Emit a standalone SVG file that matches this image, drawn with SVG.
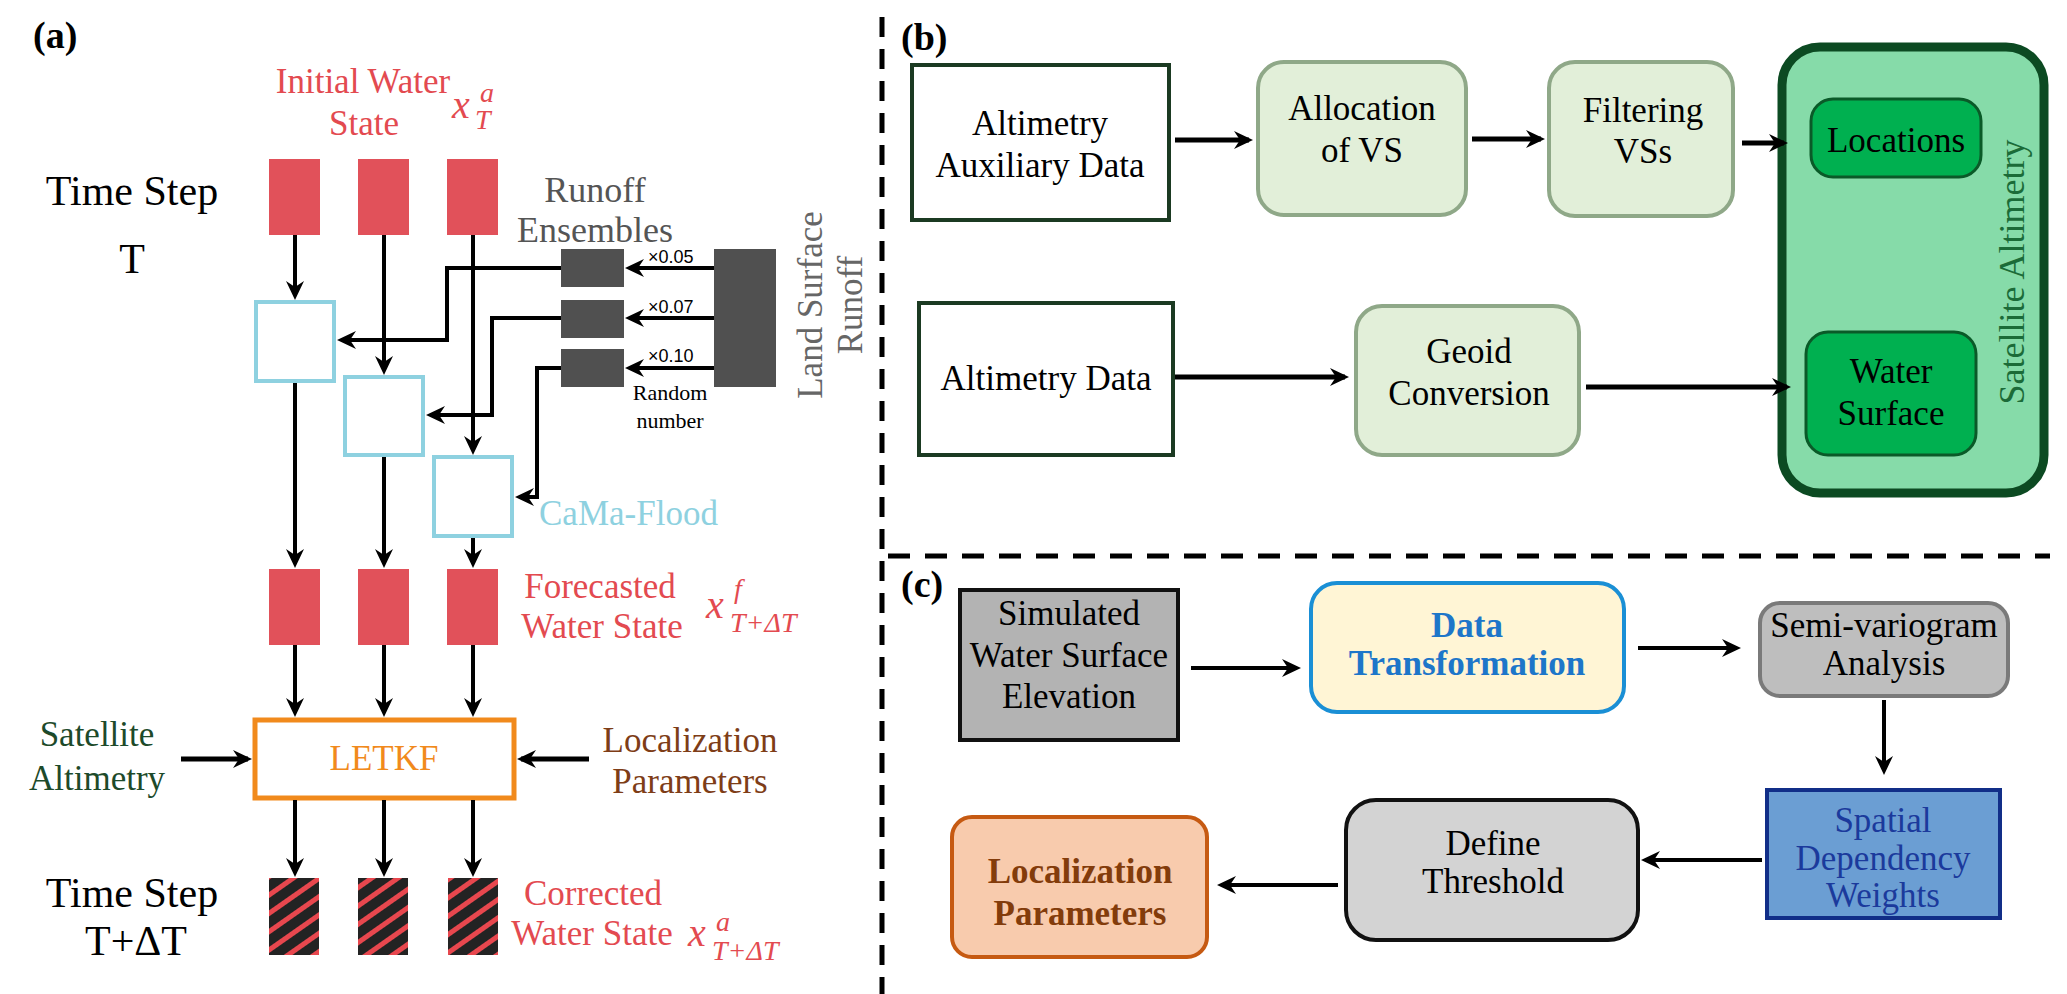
<svg xmlns="http://www.w3.org/2000/svg" width="2067" height="994" viewBox="0 0 2067 994" font-family="'Liberation Serif','Times New Roman',serif">
<style>
text{font-family:"Liberation Serif","Times New Roman",serif;}
.t35{font-size:35px;}
.red{fill:#E34A50;}
.c{text-anchor:middle;}
.lbl{font-size:38px;font-weight:bold;fill:#000;}
.ln{fill:none;stroke:#000;stroke-width:4;}
.lnb{fill:none;stroke:#000;stroke-width:5;}
.mi{font-style:italic;fill:#E34A50;}
.dash{fill:none;stroke:#000;stroke-width:5;}
.sans{font-family:"Liberation Sans",Arial,sans-serif;font-size:18px;}
</style>
<defs>
<marker id="ah" markerUnits="userSpaceOnUse" markerWidth="20" markerHeight="20" viewBox="0 0 20 20" refX="15" refY="10" orient="auto">
<path d="M0,1 L19,10 L0,19 L6,10 z" fill="#000"/>
</marker>
<pattern id="hatch" patternUnits="userSpaceOnUse" width="15" height="15" patternTransform="rotate(-35)">
<rect x="0" y="0" width="15" height="15" fill="#232323"/>
<rect x="0" y="0" width="15" height="5" fill="#E8474E"/>
</pattern>
</defs>
<rect width="2067" height="994" fill="#fff"/>

<g id="dividers">
<line class="dash" x1="882" y1="17" x2="882" y2="994" stroke-dasharray="20 12"/>
<line class="dash" x1="888" y1="556" x2="2050" y2="556" stroke-dasharray="22 15"/>
</g>

<!-- ===== Panel (a) ===== -->
<text class="lbl" x="33" y="48">(a)</text>

<g id="initial-state">
<rect x="269" y="159" width="51" height="76" fill="#E1515A"/>
<rect x="358" y="159" width="51" height="76" fill="#E1515A"/>
<rect x="447" y="159" width="51" height="76" fill="#E1515A"/>
<text class="t35 red c" x="363" y="93">Initial Water</text>
<text class="t35 red c" x="364" y="135">State</text>
<text class="mi" x="452" y="118" font-size="40">x</text>
<text class="mi" x="480" y="102" font-size="28">a</text>
<text class="mi" x="475" y="129" font-size="28">T</text>
</g>

<g id="timestep-T">
<text class="c" x="132" y="205" font-size="42">Time Step</text>
<text class="c" x="132" y="273" font-size="42">T</text>
</g>

<g id="runoff-ensembles">
<rect x="561" y="249" width="63" height="38" fill="#505050"/>
<rect x="561" y="300" width="63" height="38" fill="#505050"/>
<rect x="561" y="349" width="63" height="38" fill="#505050"/>
<text class="c" x="595" y="202" font-size="36" fill="#555">Runoff</text>
<text class="c" x="595" y="242" font-size="36" fill="#555">Ensembles</text>
<text class="sans" x="648" y="263">×0.05</text>
<text class="sans" x="648" y="313">×0.07</text>
<text class="sans" x="648" y="362">×0.10</text>
<text class="c" x="670" y="400" font-size="22">Random</text>
<text class="c" x="670" y="428" font-size="22">number</text>
</g>

<g id="land-surface-runoff">
<rect x="714" y="249" width="62" height="138" fill="#505050"/>
<text class="c" transform="translate(822,305) rotate(-90)" font-size="35" fill="#666">Land Surface</text>
<text class="c" transform="translate(862,305) rotate(-90)" font-size="35" fill="#666">Runoff</text>
</g>

<g id="cama-flood">
<rect x="256" y="302" width="78" height="79" fill="#fff" stroke="#8ED1E0" stroke-width="4"/>
<rect x="345" y="377" width="78" height="78" fill="#fff" stroke="#8ED1E0" stroke-width="4"/>
<rect x="434" y="457" width="78" height="79" fill="#fff" stroke="#8ED1E0" stroke-width="4"/>
<text class="t35" x="539" y="525" fill="#8ED1E0">CaMa-Flood</text>
</g>

<g id="forecast-state">
<rect x="269" y="569" width="51" height="76" fill="#E1515A"/>
<rect x="358" y="569" width="51" height="76" fill="#E1515A"/>
<rect x="447" y="569" width="51" height="76" fill="#E1515A"/>
<text class="t35 red c" x="600" y="598">Forecasted</text>
<text class="t35 red c" x="602" y="638">Water State</text>
<text class="mi" x="706" y="618" font-size="40">x</text>
<text class="mi" x="734" y="598" font-size="28">f</text>
<text class="mi" x="730" y="632" font-size="28">T+ΔT</text>
</g>

<g id="letkf">
<rect x="255" y="720" width="259" height="78" fill="#fff" stroke="#F18A1C" stroke-width="5"/>
<text class="t35 c" x="384" y="770" fill="#F18A1C">LETKF</text>
</g>

<g id="sat-alt-input">
<text class="t35 c" x="97" y="746" fill="#1D4A2A">Satellite</text>
<text class="t35 c" x="97" y="790" fill="#1D4A2A">Altimetry</text>
</g>

<g id="loc-param-input">
<text class="t35 c" x="690" y="752" fill="#7E3D17">Localization</text>
<text class="t35 c" x="690" y="793" fill="#7E3D17">Parameters</text>
</g>

<g id="corrected-state">
<rect x="269" y="878" width="50" height="77" fill="url(#hatch)"/>
<rect x="358" y="878" width="50" height="77" fill="url(#hatch)"/>
<rect x="448" y="878" width="50" height="77" fill="url(#hatch)"/>
<text class="t35 red c" x="593" y="905">Corrected</text>
<text class="t35 red c" x="592" y="945">Water State</text>
<text class="mi" x="688" y="946" font-size="40">x</text>
<text class="mi" x="716" y="931" font-size="28">a</text>
<text class="mi" x="712" y="960" font-size="28">T+ΔT</text>
</g>

<g id="timestep-T2">
<text class="c" x="132" y="907" font-size="42">Time Step</text>
<text class="c" x="136" y="955" font-size="42">T+ΔT</text>
</g>

<g id="connectors-a">
<path class="ln" d="M295,235 V296" marker-end="url(#ah)"/>
<path class="ln" d="M384,235 V371" marker-end="url(#ah)"/>
<path class="ln" d="M473,235 V451" marker-end="url(#ah)"/>
<path class="ln" d="M295,383 V564" marker-end="url(#ah)"/>
<path class="ln" d="M384,457 V564" marker-end="url(#ah)"/>
<path class="ln" d="M473,538 V564" marker-end="url(#ah)"/>
<path class="ln" d="M561,268 H447 V340 H341" marker-end="url(#ah)"/>
<path class="ln" d="M561,318 H492 V415 H430" marker-end="url(#ah)"/>
<path class="ln" d="M561,368 H537 V497 H519" marker-end="url(#ah)"/>
<path class="ln" d="M714,268 H629" marker-end="url(#ah)"/>
<path class="ln" d="M714,318 H629" marker-end="url(#ah)"/>
<path class="ln" d="M714,368 H629" marker-end="url(#ah)"/>
<path class="ln" d="M295,645 V713" marker-end="url(#ah)"/>
<path class="ln" d="M384,645 V713" marker-end="url(#ah)"/>
<path class="ln" d="M473,645 V713" marker-end="url(#ah)"/>
<path class="lnb" d="M181,759 H248" marker-end="url(#ah)"/>
<path class="lnb" d="M589,759 H521" marker-end="url(#ah)"/>
<path class="ln" d="M295,800 V873" marker-end="url(#ah)"/>
<path class="ln" d="M384,800 V873" marker-end="url(#ah)"/>
<path class="ln" d="M473,800 V873" marker-end="url(#ah)"/>
</g>

<!-- ===== Panel (b) ===== -->
<text class="lbl" x="901" y="50">(b)</text>

<g id="aux-data">
<rect x="912" y="65" width="257" height="155" fill="#fff" stroke="#1B3A22" stroke-width="4"/>
<text class="t35 c" x="1040" y="135">Altimetry</text>
<text class="t35 c" x="1040" y="177">Auxiliary Data</text>
</g>
<g id="alt-data">
<rect x="919" y="303" width="254" height="152" fill="#fff" stroke="#1B3A22" stroke-width="4"/>
<text class="t35 c" x="1046" y="390">Altimetry Data</text>
</g>
<g id="allocation">
<rect x="1258" y="62" width="208" height="153" rx="26" fill="#E2EFD9" stroke="#8FA888" stroke-width="4"/>
<text class="t35 c" x="1362" y="120">Allocation</text>
<text class="t35 c" x="1362" y="162">of VS</text>
</g>
<g id="filtering">
<rect x="1549" y="62" width="184" height="154" rx="26" fill="#E2EFD9" stroke="#8FA888" stroke-width="4"/>
<text class="t35 c" x="1643" y="122">Filtering</text>
<text class="t35 c" x="1643" y="163">VSs</text>
</g>
<g id="geoid">
<rect x="1356" y="306" width="223" height="149" rx="26" fill="#E2EFD9" stroke="#8FA888" stroke-width="4"/>
<text class="t35 c" x="1469" y="363">Geoid</text>
<text class="t35 c" x="1469" y="405">Conversion</text>
</g>
<g id="satellite-altimetry">
<rect x="1782" y="47" width="262" height="446" rx="38" fill="#86DBA9" stroke="#0C4A22" stroke-width="9"/>
<text class="c" transform="translate(2024,272) rotate(-90)" font-size="36" fill="#1B6B38">Satellite Altimetry</text>
</g>
<g id="locations">
<rect x="1811" y="99" width="170" height="78" rx="22" fill="#00B050" stroke="#0A5A28" stroke-width="3"/>
<text class="t35 c" x="1896" y="152">Locations</text>
</g>
<g id="water-surface">
<rect x="1806" y="332" width="170" height="123" rx="22" fill="#00B050" stroke="#0A5A28" stroke-width="3"/>
<text class="t35 c" x="1891" y="383">Water</text>
<text class="t35 c" x="1891" y="425">Surface</text>
</g>

<g id="connectors-b">
<path class="lnb" d="M1175,140 H1249" marker-end="url(#ah)"/>
<path class="lnb" d="M1472,139 H1541" marker-end="url(#ah)"/>
<path class="lnb" d="M1742,143 H1784" marker-end="url(#ah)"/>
<path class="lnb" d="M1175,377 H1345" marker-end="url(#ah)"/>
<path class="lnb" d="M1586,387 H1787" marker-end="url(#ah)"/>
</g>

<!-- ===== Panel (c) ===== -->
<text class="lbl" x="901" y="597">(c)</text>

<g id="simulated-wse">
<rect x="960" y="590" width="218" height="150" fill="#B3B3B3" stroke="#111" stroke-width="4"/>
<text class="t35 c" x="1069" y="625">Simulated</text>
<text class="t35 c" x="1069" y="667">Water Surface</text>
<text class="t35 c" x="1069" y="708">Elevation</text>
</g>
<g id="data-transformation">
<rect x="1311" y="583" width="313" height="129" rx="26" fill="#FFF5D5" stroke="#1A8FD5" stroke-width="4"/>
<text class="t35 c" x="1467" y="637" font-weight="bold" fill="#1D76C9">Data</text>
<text class="t35 c" x="1467" y="675" font-weight="bold" fill="#1D76C9">Transformation</text>
</g>
<g id="semi-variogram">
<rect x="1760" y="603" width="248" height="93" rx="20" fill="#BEBEBE" stroke="#7A7A7A" stroke-width="4"/>
<text class="t35 c" x="1884" y="637">Semi-variogram</text>
<text class="t35 c" x="1884" y="675">Analysis</text>
</g>
<g id="spatial-weights">
<rect x="1767" y="790" width="233" height="128" fill="#6B9ED3" stroke="#112E88" stroke-width="4"/>
<text class="t35 c" x="1883" y="832" fill="#1B3A9C">Spatial</text>
<text class="t35 c" x="1883" y="870" fill="#1B3A9C">Dependency</text>
<text class="t35 c" x="1883" y="907" fill="#1B3A9C">Weights</text>
</g>
<g id="define-threshold">
<rect x="1346" y="800" width="292" height="140" rx="30" fill="#D3D3D3" stroke="#111" stroke-width="4"/>
<text class="t35 c" x="1493" y="855">Define</text>
<text class="t35 c" x="1493" y="893">Threshold</text>
</g>
<g id="localization-parameters">
<rect x="952" y="817" width="255" height="140" rx="20" fill="#F8CBAD" stroke="#C65A12" stroke-width="4"/>
<text class="t35 c" x="1080" y="883" font-weight="bold" fill="#833C0B">Localization</text>
<text class="t35 c" x="1080" y="925" font-weight="bold" fill="#833C0B">Parameters</text>
</g>

<g id="connectors-c">
<path class="ln" d="M1191,668 H1297" marker-end="url(#ah)"/>
<path class="ln" d="M1638,648 H1737" marker-end="url(#ah)"/>
<path class="ln" d="M1884,700 V771" marker-end="url(#ah)"/>
<path class="ln" d="M1762,860 H1645" marker-end="url(#ah)"/>
<path class="ln" d="M1338,885 H1221" marker-end="url(#ah)"/>
</g>
</svg>
